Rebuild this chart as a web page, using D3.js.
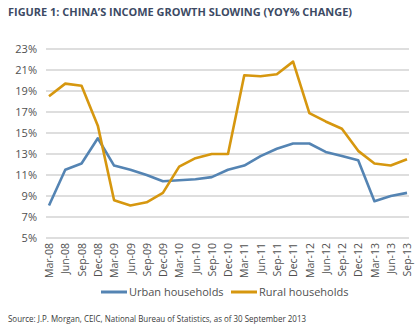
<!DOCTYPE html>
<html>
<head>
<meta charset="utf-8">
<script src="https://cdn.jsdelivr.net/npm/d3@7"></script>
<style>
  body { margin: 0; background: #fff; }
  text { font-family: "Open Sans", "Noto Sans", sans-serif; }
</style>
</head>
<body>
<svg id="chart" width="420" height="333"></svg>
<script>
// Quarterly YoY income growth, urban vs rural households.
const quarters = [
  "Mar-08", "Jun-08", "Sep-08", "Dec-08", "Mar-09", "Jun-09", "Sep-09", "Dec-09",
  "Mar-10", "Jun-10", "Sep-10", "Dec-10", "Mar-11", "Jun-11", "Sep-11", "Dec-11",
  "Mar-12", "Jun-12", "Sep-12", "Dec-12", "Mar-13", "Jun-13", "Sep-13"
];
const urban = [
  8.1, 11.5, 12.1, 14.5, 11.9, 11.5, 11.0, 10.4,
  10.5, 10.6, 10.8, 11.5, 11.9, 12.8, 13.5, 14.0,
  14.0, 13.2, 12.8, 12.4, 8.5, 9.0, 9.3
];
const rural = [
  18.5, 19.7, 19.5, 15.7, 8.6, 8.1, 8.4, 9.3,
  11.8, 12.6, 13.0, 13.0, 20.5, 20.4, 20.6, 21.8,
  16.9, 16.1, 15.4, 13.3, 12.1, 11.9, 12.5
];
const yTicks = [5, 7, 9, 11, 13, 15, 17, 19, 21, 23];

const URBAN_COLOR = "#5484b3";
const RURAL_COLOR = "#d6970f";
const GRID_COLOR = "#bdbdbd";
const LABEL_COLOR = "#505050";

const svg = d3.select("#chart");

const x = d3.scalePoint().domain(quarters).range([49, 407]);
const y = d3.scaleLinear().domain([5, 23]).range([238, 49]);

// Title
svg.append("text")
  .attr("x", 8).attr("y", 16)
  .attr("fill", "#3c4a64")
  .attr("font-size", 11)
  .attr("font-weight", "bold")
  .attr("textLength", 344)
  .attr("lengthAdjust", "spacingAndGlyphs")
  .text("FIGURE 1: CHINA\u2019S INCOME GROWTH SLOWING (YOY% CHANGE)");

// Horizontal gridlines
svg.append("g")
  .selectAll("line")
  .data(yTicks)
  .join("line")
  .attr("x1", 46).attr("x2", 409)
  .attr("y1", (d) => y(d)).attr("y2", (d) => y(d))
  .attr("stroke", GRID_COLOR)
  .attr("stroke-width", 1);

// Y axis labels
const yAxis = svg.append("g")
  .attr("transform", "translate(40,0)")
  .call(d3.axisLeft(y).tickValues(yTicks).tickFormat((d) => d + "%").tickSize(0).tickPadding(3));
yAxis.select(".domain").remove();
yAxis.selectAll("text")
  .attr("fill", LABEL_COLOR)
  .attr("font-size", 11)
  .style("font-family", "'Open Sans', sans-serif");

// X axis labels, rotated
const xAxis = svg.append("g")
  .attr("transform", "translate(0,243)")
  .call(d3.axisBottom(x).tickSize(0).tickPadding(0));
xAxis.select(".domain").remove();
xAxis.selectAll("text")
  .attr("fill", LABEL_COLOR)
  .attr("font-size", 10.5)
  .style("font-family", "'Open Sans', sans-serif")
  .attr("text-anchor", "end")
  .attr("transform", "rotate(-90)")
  .attr("x", 0).attr("y", 0).attr("dx", 0).attr("dy", "0.35em");

// Lines
const line = (vals) => d3.line()
  .x((d, i) => x(quarters[i]))
  .y((d) => y(d))(vals);

svg.append("path")
  .attr("d", line(urban))
  .attr("fill", "none")
  .attr("stroke", URBAN_COLOR)
  .attr("stroke-width", 2.6)
  .attr("stroke-linejoin", "round");

svg.append("path")
  .attr("d", line(rural))
  .attr("fill", "none")
  .attr("stroke", RURAL_COLOR)
  .attr("stroke-width", 2.6)
  .attr("stroke-linejoin", "round");

// Legend
const legend = [
  { label: "Urban households", color: URBAN_COLOR, x: 101 },
  { label: "Rural households", color: RURAL_COLOR, x: 231 }
];
const lg = svg.append("g").selectAll("g").data(legend).join("g")
  .attr("transform", (d) => `translate(${d.x},292)`);
lg.append("line")
  .attr("x1", 0).attr("x2", 26)
  .attr("stroke", (d) => d.color)
  .attr("stroke-width", 3);
lg.append("text")
  .attr("x", 28).attr("dy", "0.35em")
  .attr("fill", LABEL_COLOR)
  .attr("font-size", 11)
  .text((d) => d.label);

// Source note
svg.append("text")
  .attr("x", 8).attr("y", 322)
  .attr("fill", "#3a3a3a")
  .attr("font-size", 9)
  .attr("textLength", 298)
  .attr("lengthAdjust", "spacingAndGlyphs")
  .text("Source: J.P. Morgan, CEIC, National Bureau of Statistics, as of 30 September 2013");
</script>
</body>
</html>
